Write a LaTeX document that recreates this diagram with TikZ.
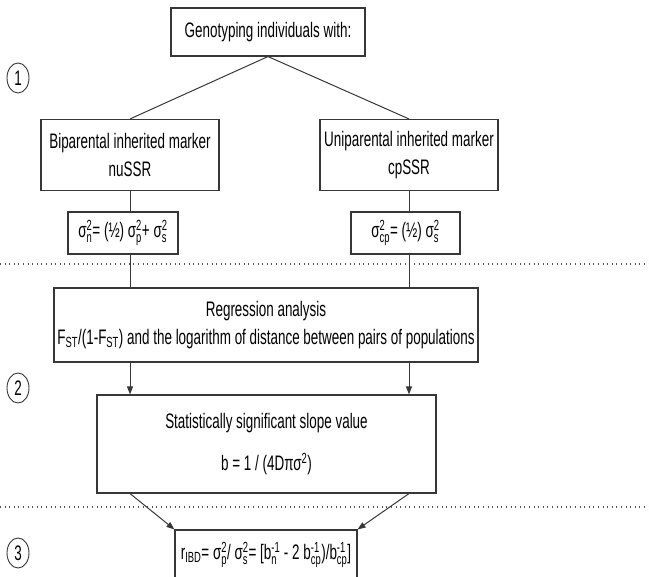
\documentclass[tikz,border=0pt]{standalone}
\usepackage{amsmath}
\usepackage{fontspec}
\setmainfont[FakeStretch=0.64]{Liberation Sans}
\usetikzlibrary{arrows.meta, shapes.geometric}
\definecolor{FigLine}{RGB}{55, 55, 55}
\definecolor{FigDots}{RGB}{80, 80, 80}
\newcommand{\supsub}[2]{$^{\text{#1}}_{\text{#2}}$}
\tikzset{
  box/.style={rectangle, draw=FigLine, line width=1.1pt, fill=white, align=center,
    inner sep=0pt, font=\fontsize{21}{27.5}\selectfont},
  stage/.style={ellipse, draw=FigLine, line width=0.9pt, minimum width=22pt,
    minimum height=30pt, inner sep=0pt, font=\fontsize{21}{22}\selectfont},
  link/.style={FigLine, line width=1pt},
  flow/.style={link, -{Triangle[length=8pt, width=6pt]}},
  sep/.style={FigDots, line width=1.1pt, dash pattern=on 1pt off 3.6pt},
}

\begin{document}
\begin{tikzpicture}[x=1pt, y=-1pt]
    \useasboundingbox (0,0) rectangle (649,577);
    % stage 1
    \node[box, minimum width=194pt, minimum height=48pt] (geno) at (268,32) {Genotyping individuals with:};
    \node[box, minimum width=178pt, minimum height=71pt] (bip) at (130,155) {Biparental inherited marker\\nuSSR};
    \node[box, minimum width=178pt, minimum height=71pt] (uni) at (409,155) {Uniparental inherited marker\\cpSSR};
    \node[box, minimum width=110pt, minimum height=42pt] (varn) at (123,233) {σ\supsub{2}{n}= (½) σ\supsub{2}{p}+ σ\supsub{2}{s}};
    \node[box, minimum width=109pt, minimum height=42pt] (varcp) at (405.5,233) {σ\supsub{2}{cp}= (½) σ\supsub{2}{s}};
    % stage 2
    \node[box, minimum width=424pt, minimum height=74pt] (regr) at (266,325) {Regression analysis\\F\textsubscript{ST}/(1-F\textsubscript{ST}) and the logarithm of distance between pairs of populations};
    \node[box, minimum width=339pt, minimum height=98pt] (slope) at (266.5,444) {Statistically significant slope value\\[15pt]b = 1 / (4Dπσ\textsuperscript{2})};
    % stage 3
    \node[box, minimum width=182pt, minimum height=50pt] (ribd) at (266,555) {r\textsubscript{IBD}= σ\supsub{2}{p}/ σ\supsub{2}{s}= [b\supsub{-1}{n} - 2 b\supsub{-1}{cp})/b\supsub{-1}{cp}]};
    \node[stage] (s1) at (18,78) {1};
    \node[stage] (s2) at (18,388) {2};
    \node[stage] (s3) at (18,553) {3};
    \draw[sep] (0,264) -- (649,264);
    \draw[sep] (0,507) -- (649,507);
    \draw[link] (geno.south) -- (bip.north);
    \draw[link] (geno.south) -- (uni.north);
    \draw[link] (bip.south) -- (bip.south |- varn.north);
    \draw[link] (uni.south) -- (uni.south |- varcp.north);
    \draw[link] (varn.south -| bip.south) -- (regr.north -| bip.south);
    \draw[link] (varcp.south -| uni.south) -- (regr.north -| uni.south);
    \draw[flow] (regr.south -| bip.south) -- (slope.north -| bip.south);
    \draw[flow] (regr.south -| uni.south) -- (slope.north -| uni.south);
    \draw[flow] (slope.south -| bip.south) -- (ribd.north west);
    \draw[flow] (slope.south -| uni.south) -- (ribd.north east);
  \end{tikzpicture}
\end{document}
